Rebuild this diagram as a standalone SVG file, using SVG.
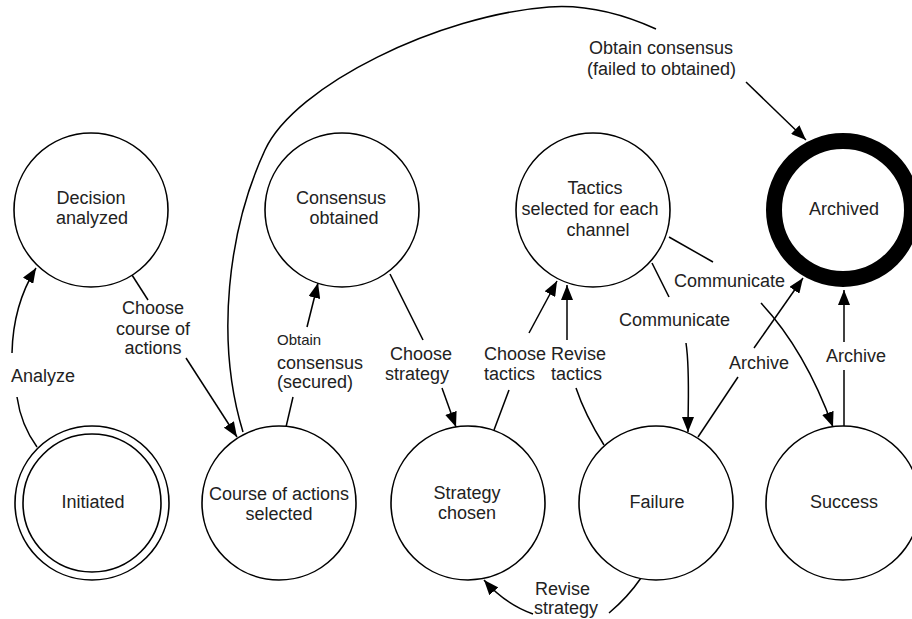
<svg xmlns="http://www.w3.org/2000/svg" width="912" height="619" viewBox="0 0 912 619">
  <style>
    .state { fill: #fff; stroke: #000; stroke-width: 1.6; }
    .final { fill: #fff; stroke: #000; stroke-width: 16; }
    .name { font-family: "Liberation Sans", Arial, sans-serif; font-size: 18px; fill: #222; text-anchor: middle; }
    .edge { fill: none; stroke: #000; stroke-width: 1.5; }
    .tip { marker-end: url(#arrow); }
    .lbl { font-family: "Liberation Sans", Arial, sans-serif; font-size: 18px; fill: #222; }
    .small { font-size: 15px; }
  </style>
  <defs>
    <marker id="arrow" markerUnits="userSpaceOnUse" markerWidth="15" markerHeight="12" refX="15" refY="6" orient="auto">
      <path d="M0,0 L15,6 L0,12 Z" fill="#000"/>
    </marker>
  </defs>

  <!-- transitions -->
  <g id="connectors">
    <!-- Analyze: Initiated -> Decision analyzed -->
    <path class="edge" d="M37,447 Q21,425 17,397"/>
    <path class="edge tip" d="M12,353 Q13,305 36,268"/>
    <!-- Choose course of actions -->
    <path class="edge" d="M132,275 L148,300"/>
    <path class="edge tip" d="M186,358 L237,437"/>
    <!-- Obtain consensus (failed to obtained): long arc to Archived -->
    <path class="edge" d="M243,432 C215,340 228,230 265,150 C295,85 440,15 549,7 C590,4 625,15 656,29"/>
    <path class="edge tip" d="M746,82 L806,140"/>
    <!-- Obtain consensus (secured) -->
    <path class="edge" d="M286,427 L293,397"/>
    <path class="edge tip" d="M307,327 L318,283"/>
    <!-- Choose strategy -->
    <path class="edge" d="M390,274 L423,340"/>
    <path class="edge tip" d="M442,388 L456,427"/>
    <!-- Choose tactics -->
    <path class="edge" d="M494,430 L509,390"/>
    <path class="edge tip" d="M529,333 L557,281"/>
    <!-- Revise tactics -->
    <path class="edge" d="M604,445 Q585,415 576,388"/>
    <path class="edge tip" d="M567,340 L567,285"/>
    <!-- Communicate: Tactics -> Failure -->
    <path class="edge" d="M652,263 L669,297"/>
    <path class="edge tip" d="M686,343 C690,370 688,400 688,432"/>
    <!-- Communicate: Tactics -> Success -->
    <path class="edge" d="M669,237 L713,262"/>
    <path class="edge tip" d="M761,303 Q805,350 833,427"/>
    <!-- Archive: Failure -> Archived -->
    <path class="edge" d="M698,437 L738,377"/>
    <path class="edge tip" d="M754,348 L803,278"/>
    <!-- Archive: Success -> Archived -->
    <path class="edge" d="M844,427 L844,370"/>
    <path class="edge tip" d="M844,342 L844,290"/>
    <!-- Revise strategy: Failure -> Strategy chosen -->
    <path class="edge" d="M641,578 Q628,597 609,613"/>
    <path class="edge tip" d="M533,614 Q505,604 484,580"/>
  </g>

  <!-- transition labels -->
  <g id="labels">
    <text class="lbl" x="11" y="382">Analyze</text>
    <text class="lbl" text-anchor="middle"><tspan x="153" y="314">Choose</tspan><tspan x="153" y="335">course of</tspan><tspan x="153" y="354">actions</tspan></text>
    <text class="lbl"><tspan class="small" x="277" y="345">Obtain</tspan><tspan x="277" y="369">consensus</tspan><tspan x="277" y="388">(secured)</tspan></text>
    <text class="lbl"><tspan x="390" y="360">Choose</tspan><tspan x="385" y="380">strategy</tspan></text>
    <text class="lbl"><tspan x="484" y="360">Choose</tspan><tspan x="484" y="380">tactics</tspan></text>
    <text class="lbl"><tspan x="551" y="360">Revise</tspan><tspan x="551" y="380">tactics</tspan></text>
    <text class="lbl" x="619" y="326">Communicate</text>
    <text class="lbl" x="674" y="287">Communicate</text>
    <text class="lbl" x="729" y="369">Archive</text>
    <text class="lbl" x="826" y="362">Archive</text>
    <text class="lbl"><tspan x="535" y="595">Revise</tspan><tspan x="534" y="614">strategy</tspan></text>
    <text class="lbl"><tspan x="589" y="54">Obtain consensus</tspan><tspan x="587" y="75">(failed to obtained)</tspan></text>
  </g>

  <!-- states -->
  <g id="decision-analyzed">
    <circle class="state" cx="91" cy="210" r="77"/>
    <text class="name"><tspan x="91" y="204">Decision</tspan><tspan x="92" y="224">analyzed</tspan></text>
  </g>
  <g id="consensus-obtained">
    <circle class="state" cx="342" cy="210" r="77"/>
    <text class="name"><tspan x="341" y="204">Consensus</tspan><tspan x="344" y="224">obtained</tspan></text>
  </g>
  <g id="tactics-selected">
    <circle class="state" cx="593" cy="210" r="77"/>
    <text class="name"><tspan x="595" y="194">Tactics</tspan><tspan x="590" y="215">selected for each</tspan><tspan x="598" y="236">channel</tspan></text>
  </g>
  <g id="archived">
    <circle class="final" cx="843" cy="210" r="69"/>
    <text class="name" x="844" y="215">Archived</text>
  </g>
  <g id="initiated">
    <circle class="state" cx="92" cy="503" r="77"/>
    <circle class="state" cx="92" cy="503" r="69"/>
    <text class="name" x="93" y="508">Initiated</text>
  </g>
  <g id="course-of-actions-selected">
    <circle class="state" cx="279" cy="503" r="77"/>
    <text class="name"><tspan x="279" y="500">Course of actions</tspan><tspan x="279" y="520">selected</tspan></text>
  </g>
  <g id="strategy-chosen">
    <circle class="state" cx="468" cy="503" r="77"/>
    <text class="name"><tspan x="467" y="499">Strategy</tspan><tspan x="467" y="519">chosen</tspan></text>
  </g>
  <g id="failure">
    <circle class="state" cx="656" cy="503" r="77"/>
    <text class="name" x="657" y="508">Failure</text>
  </g>
  <g id="success">
    <circle class="state" cx="843" cy="503" r="77"/>
    <text class="name" x="844" y="508">Success</text>
  </g>
</svg>
